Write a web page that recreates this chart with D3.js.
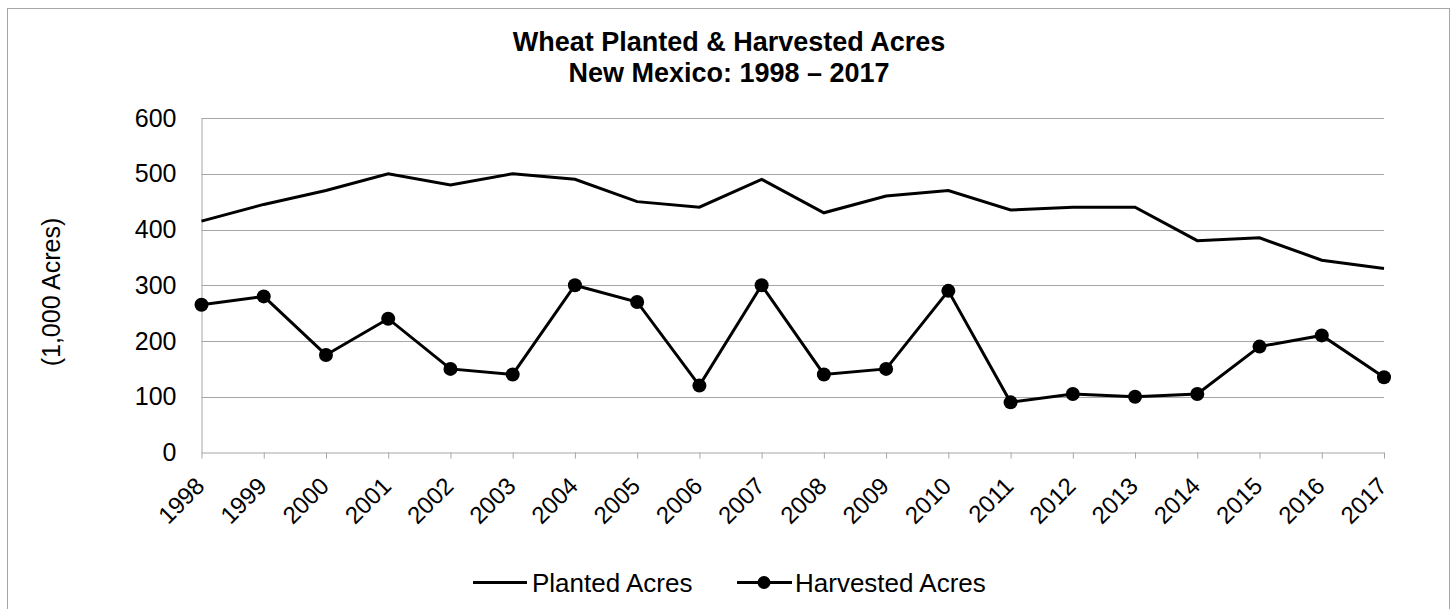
<!DOCTYPE html>
<html>
<head>
<meta charset="utf-8">
<script src="https://cdn.jsdelivr.net/npm/d3@7"></script>
<style>
  html, body { margin: 0; padding: 0; background: #fff; }
  svg text { font-family: "Liberation Sans", Arial, sans-serif; fill: #000; }
</style>
</head>
<body>
<svg id="chart" width="1455" height="609"></svg>
<script>
const years = ['1998', '1999', '2000', '2001', '2002', '2003', '2004', '2005', '2006', '2007',
               '2008', '2009', '2010', '2011', '2012', '2013', '2014', '2015', '2016', '2017'];
const planted = [415, 445, 470, 500, 480, 500, 490, 450, 440, 490,
                 430, 460, 470, 435, 440, 440, 380, 385, 345, 330];
const harvested = [265, 280, 175, 240, 150, 140, 300, 270, 120, 300,
                   140, 150, 290, 90, 105, 100, 105, 190, 210, 135];
const yTicks = [0, 100, 200, 300, 400, 500, 600];
const titleLines = ['Wheat Planted & Harvested Acres', 'New Mexico: 1998 \u2013 2017'];

const svg = d3.select('#chart');

// outer frame (bottom edge runs past the picture)
svg.append('rect')
  .attr('x', 7.5).attr('y', 8.5)
  .attr('width', 1442).attr('height', 620)
  .attr('fill', 'none').attr('stroke', '#a6a6a6').attr('stroke-width', 1);

const plotLeft = 201.5, plotRight = 1384, plotTop = 118, plotBottom = 452.5;

const x = d3.scalePoint().domain(years).range([plotLeft, plotRight]);
const y = d3.scaleLinear().domain([0, 600]).range([plotBottom, plotTop]);

// gridlines
svg.append('g')
  .selectAll('line')
  .data(yTicks.filter(t => t > 0))
  .enter().append('line')
  .attr('x1', plotLeft).attr('x2', plotRight)
  .attr('y1', d => Math.round(y(d)) + 0.5).attr('y2', d => Math.round(y(d)) + 0.5)
  .attr('stroke', '#a6a6a6').attr('stroke-width', 1);

// y axis
const yAxis = svg.append('g')
  .attr('transform', `translate(${plotLeft},0)`)
  .call(d3.axisLeft(y).tickValues(yTicks).tickSize(0).tickPadding(25));
yAxis.select('.domain').attr('stroke', '#a6a6a6');
yAxis.selectAll('text').style('font-size', '25px');

// x axis
const xAxis = svg.append('g')
  .attr('transform', `translate(0,${plotBottom})`)
  .call(d3.axisBottom(x).tickSize(6).tickSizeOuter(0));
xAxis.select('.domain').attr('stroke', '#a6a6a6');
xAxis.selectAll('.tick line').attr('stroke', '#a6a6a6');
xAxis.selectAll('text')
  .style('font-size', '24px')
  .style('text-anchor', 'end')
  .attr('y', 0).attr('dy', '0.35em')
  .attr('transform', 'translate(-2,29) rotate(-45)');

// y axis title
svg.append('text')
  .attr('transform', 'translate(60,292) rotate(-90)')
  .attr('text-anchor', 'middle')
  .style('font-size', '25px')
  .text('(1,000 Acres)');

// title
svg.append('g').selectAll('text')
  .data(titleLines)
  .enter().append('text')
  .attr('x', 729).attr('y', (d, i) => 51 + i * 31)
  .attr('text-anchor', 'middle')
  .style('font-size', '27px').style('font-weight', 'bold')
  .text(d => d);

const line = d3.line().x(d => x(d[0])).y(d => y(d[1]));

svg.append('path')
  .datum(years.map((yr, i) => [yr, planted[i]]))
  .attr('d', line)
  .attr('fill', 'none').attr('stroke', '#000').attr('stroke-width', 3);

const harvData = years.map((yr, i) => [yr, harvested[i]]);
svg.append('path')
  .datum(harvData)
  .attr('d', line)
  .attr('fill', 'none').attr('stroke', '#000').attr('stroke-width', 3);

svg.append('g').selectAll('circle')
  .data(harvData)
  .enter().append('circle')
  .attr('cx', d => x(d[0])).attr('cy', d => y(d[1]))
  .attr('r', 7).attr('fill', '#000');

// legend
const legend = svg.append('g').attr('transform', 'translate(0,582.5)');
legend.append('line')
  .attr('x1', 473).attr('x2', 527).attr('y1', 0).attr('y2', 0)
  .attr('stroke', '#000').attr('stroke-width', 3);
legend.append('text')
  .attr('x', 532).attr('y', 9.5).style('font-size', '26px')
  .text('Planted Acres');
legend.append('line')
  .attr('x1', 737).attr('x2', 792).attr('y1', 0).attr('y2', 0)
  .attr('stroke', '#000').attr('stroke-width', 3);
legend.append('circle')
  .attr('cx', 764).attr('cy', 0).attr('r', 6.5).attr('fill', '#000');
legend.append('text')
  .attr('x', 795).attr('y', 9.5).style('font-size', '26px')
  .text('Harvested Acres');
</script>
</body>
</html>
